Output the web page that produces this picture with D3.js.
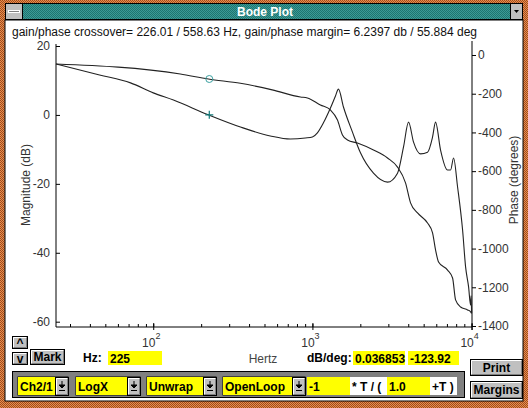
<!DOCTYPE html>
<html>
<head>
<meta charset="utf-8">
<script src="https://cdn.jsdelivr.net/npm/d3@7"></script>
<style>
body { margin: 0; background: #fff; }
svg { display: block; font-family: Arial, "Liberation Sans", sans-serif; }
</style>
</head>
<body>
<svg id="win" width="528" height="408"></svg>
<script>

// magnitude curve (Hz, dB)
var magFreq = [24.5, 46, 72, 100, 134, 222, 353, 544, 727, 904, 1000, 1075, 1173, 1298, 1396, 1458,
	1567, 1785, 2004, 2419, 2964, 3425, 3736, 4017, 4319, 4779, 5288, 5686, 5937, 6384, 7066, 7379,
	7707, 8166, 8780, 9169, 9576, 9858, 9930, 10000];
var magDb = [14.8, 11.6, 9.3, 6.4, 4.3, 0.04, -3.5, -6.1, -7.0, -6.7, -6.4, -5.2, -2.3, 2.0, 5.5, 7.5,
	2.3, -5.0, -11.0, -16.9, -19.5, -16.9, -9.3, -2.1, -7.9, -11.3, -10.8, -6.4, -2.1, -10.2, -16.0, -16.0,
	-12.5, -20.9, -33.4, -44.1, -49.9, -55.2, -52.5, -57.5];

// phase curve (Hz, degrees)
var phaseFreq = [24.5, 148, 222, 353, 559, 841, 930, 1123, 1298, 1437, 1544, 1661, 1919, 2419, 2964,
	3425, 3846, 4135, 4576, 5288, 5686, 5937, 6201, 7066, 7596, 7932, 8529, 9438, 9858, 10000];
var phaseDeg = [-46.5, -98, -124, -146, -180, -217, -222, -258, -284, -336, -413, -439, -455, -491, -532,
	-579, -661, -764, -816, -868, -919, -1007, -1069, -1111, -1152, -1265, -1302, -1317, -1327, -1335];

var magTicks = [20, 0, -20, -40, -60];
var phaseTicks = [0, -200, -400, -600, -800, -1000, -1200, -1400];
var decades = [100, 1000, 10000];

var markHz = 225, markDb = 0.036853, markDeg = -123.92;
var headline = "gain/phase crossover= 226.01 / 558.63 Hz,  gain/phase margin= 6.2397 db / 55.884 deg";
var combos = ["Ch2/1", "LogX", "Unwrap", "OpenLoop"];

var svg = d3.select("#win");

// --- window frame ---
var defs = svg.append("defs");
var pat = defs.append("pattern").attr("id", "dither").attr("width", 2).attr("height", 2)
	.attr("patternUnits", "userSpaceOnUse");
pat.append("rect").attr("width", 2).attr("height", 2).attr("fill", "#3c9a96");
pat.append("rect").attr("width", 1).attr("height", 1).attr("fill", "#1e7470");
pat.append("rect").attr("x", 1).attr("y", 1).attr("width", 1).attr("height", 1).attr("fill", "#1e7470");

var opat = defs.append("pattern").attr("id", "odither").attr("width", 2).attr("height", 2)
	.attr("patternUnits", "userSpaceOnUse");
opat.append("rect").attr("width", 2).attr("height", 2).attr("fill", "#e8904c");
opat.append("rect").attr("width", 1).attr("height", 1).attr("fill", "#a04a20");
opat.append("rect").attr("x", 1).attr("y", 1).attr("width", 1).attr("height", 1).attr("fill", "#a04a20");

svg.append("rect").attr("x", 0).attr("y", 0).attr("width", 528).attr("height", 408).attr("fill", "url(#odither)");
svg.append("rect").attr("x", 5).attr("y", 20).attr("width", 518).attr("height", 381).attr("fill", "#fff")
	.attr("stroke", "#000").attr("stroke-width", 1);
svg.append("rect").attr("x", 5.5).attr("y", 3.5).attr("width", 517).attr("height", 16).attr("fill", "url(#dither)")
	.attr("stroke", "#000");
// system menu box
svg.append("rect").attr("x", 5.5).attr("y", 3.5).attr("width", 17).attr("height", 16).attr("fill", "#c0c0c0").attr("stroke", "#000");
svg.append("rect").attr("x", 8.5).attr("y", 10.5).attr("width", 11).attr("height", 2).attr("fill", "#808080").attr("stroke", "#fff");
// dropdown box
svg.append("rect").attr("x", 510.5).attr("y", 3.5).attr("width", 12).attr("height", 16).attr("fill", "#c0c0c0").attr("stroke", "#000");
svg.append("path").attr("d", "M514,10 L519,10 L516.5,13 Z").attr("fill", "#000");
svg.append("text").attr("x", 265).attr("y", 16).attr("text-anchor", "middle").attr("fill", "#fff")
	.attr("font-weight", "bold").attr("font-size", 12).text("Bode Plot");

svg.append("text").attr("x", 12).attr("y", 36).attr("font-size", 12).attr("fill", "#111").text(headline);

// --- plot ---
var x = d3.scaleLog().domain([24.5, 10060]).range([56, 472]);
var yMag = d3.scaleLinear().domain([-60, 20]).range([321.7, 46]);
var yPhase = d3.scaleLinear().domain([-1400, 0]).range([326, 55]);
var plotBottom = 327;
var plain = function(d) { return String(d); };

var magData = magFreq.map(function(f, i) { return {f: f, v: magDb[i]}; });
var phaseData = phaseFreq.map(function(f, i) { return {f: f, v: phaseDeg[i]}; });

var g = svg.append("g");

// axis lines
g.append("line").attr("x1", 56).attr("x2", 56).attr("y1", 44).attr("y2", plotBottom).attr("stroke", "#000");
g.append("line").attr("x1", 472).attr("x2", 472).attr("y1", 41).attr("y2", plotBottom + 3).attr("stroke", "#000");
g.append("line").attr("x1", 56).attr("x2", 472).attr("y1", plotBottom).attr("y2", plotBottom).attr("stroke", "#000");

var leftAxis = d3.axisLeft(yMag).tickValues(magTicks).tickFormat(plain).tickSizeInner(-4).tickSizeOuter(0).tickPadding(6);
var gl = g.append("g").attr("transform", "translate(56,0)").call(leftAxis);

var rightAxis = d3.axisRight(yPhase).tickValues(phaseTicks).tickFormat(plain).tickSizeInner(4).tickSizeOuter(0).tickPadding(2);
var gr = g.append("g").attr("transform", "translate(472,0)").call(rightAxis);

var minorAxis = d3.axisBottom(x).tickValues(x.ticks()).tickSizeInner(-3).tickSizeOuter(0).tickFormat("");
var gb = g.append("g").attr("transform", "translate(0," + plotBottom + ")").call(minorAxis);
var majorAxis = d3.axisBottom(x).tickValues(decades).tickSizeInner(3).tickSizeOuter(0).tickFormat("");
var gb2 = g.append("g").attr("transform", "translate(0," + plotBottom + ")").call(majorAxis);
gb2.selectAll(".tick line").attr("y1", -4);

[gl, gr, gb, gb2].forEach(function(a) {
	a.select(".domain").remove();
	a.selectAll("line").attr("stroke", "#000");
	a.selectAll("text").attr("font-family", "Arial, 'Liberation Sans', sans-serif").attr("font-size", 12).attr("fill", "#333");
});

// decade labels 10^n
decades.forEach(function(d) {
	var t = g.append("text").attr("x", x(d) - 2).attr("y", 347).attr("text-anchor", "middle")
		.attr("font-size", 12).attr("fill", "#333");
	t.append("tspan").text("10");
	t.append("tspan").attr("dy", -8).attr("font-size", 9).text(Math.round(Math.log10(d)));
});

g.append("text").attr("transform", "translate(30,185) rotate(-90)").attr("text-anchor", "middle")
	.attr("font-size", 12).attr("fill", "#333").text("Magnitude (dB)");
g.append("text").attr("transform", "translate(518,180) rotate(-90)").attr("text-anchor", "middle")
	.attr("font-size", 12).attr("fill", "#333").text("Phase (degrees)");

var magLine = d3.line().x(function(d) { return x(d.f); }).y(function(d) { return yMag(d.v); }).curve(d3.curveMonotoneX);
var phaseLine = d3.line().x(function(d) { return x(d.f); }).y(function(d) { return yPhase(d.v); }).curve(d3.curveMonotoneX);

g.append("path").datum(phaseData).attr("d", phaseLine).attr("fill", "none").attr("stroke", "#222").attr("stroke-width", 1.1);
g.append("path").datum(magData).attr("d", magLine).attr("fill", "none").attr("stroke", "#222").attr("stroke-width", 1.1);

// marker
var mx = x(markHz);
g.append("circle").attr("cx", mx).attr("cy", yPhase(markDeg)).attr("r", 3.5).attr("fill", "none").attr("stroke", "#3aa0a0").attr("stroke-width", 1);
g.append("path").attr("d", "M" + (mx - 4) + "," + yMag(markDb) + "h8M" + mx + "," + (yMag(markDb) - 4) + "v8")
	.attr("stroke", "#137a7a").attr("stroke-width", 1.2);

// --- controls ---
function button(xp, yp, w, h, label) {
	svg.append("rect").attr("x", xp + 0.5).attr("y", yp + 0.5).attr("width", w).attr("height", h).attr("fill", "#c0c0c0").attr("stroke", "#000");
	svg.append("path").attr("d", "M" + (xp + 1.5) + "," + (yp + h - 0.5) + "V" + (yp + 1.5) + "H" + (xp + w - 0.5))
		.attr("fill", "none").attr("stroke", "#fff");
	svg.append("path").attr("d", "M" + (xp + 1.5) + "," + (yp + h - 0.5) + "H" + (xp + w - 0.5) + "V" + (yp + 1.5))
		.attr("fill", "none").attr("stroke", "#808080");
	if (label) {
		svg.append("text").attr("x", xp + w / 2 + 0.5).attr("y", yp + h / 2 + 4.5).attr("text-anchor", "middle")
			.attr("font-size", 12).attr("font-weight", "bold").attr("fill", "#000").text(label);
	}
}
function field(xp, yp, w, h, label, fill) {
	svg.append("rect").attr("x", xp).attr("y", yp).attr("width", w).attr("height", h).attr("fill", fill || "#ffff00");
	svg.append("text").attr("x", xp + 2).attr("y", yp + h / 2 + 4.5).attr("font-size", 12).attr("font-weight", "bold")
		.attr("fill", "#000").text(label);
}

button(12, 336, 15, 12, "^");
button(12, 352, 15, 12, "v");
button(30, 349, 34, 15, "Mark");
svg.append("text").attr("x", 83).attr("y", 362).attr("font-size", 12).attr("font-weight", "bold").text("Hz:");
field(108, 351, 54, 14, String(markHz));
svg.append("text").attr("x", 263).attr("y", 363).attr("text-anchor", "middle").attr("font-size", 12).attr("fill", "#444").text("Hertz");
svg.append("text").attr("x", 307).attr("y", 362).attr("font-size", 12).attr("font-weight", "bold").text("dB/deg:");
field(353, 351, 52, 14, String(markDb));
field(408, 351, 51, 14, String(markDeg));
button(470, 359, 52, 16, "Print");
button(470, 381, 52, 17, "Margins");

svg.append("rect").attr("x", 12.5).attr("y", 371.5).attr("width", 452).attr("height", 26).attr("fill", "#808080").attr("stroke", "#000");

var comboX = [18, 76, 147, 223], comboW = [37, 51, 56, 69];
combos.forEach(function(c, i) {
	svg.append("rect").attr("x", comboX[i] - 0.5).attr("y", 376.5).attr("width", comboW[i] + 14).attr("height", 19).attr("fill", "#000");
	field(comboX[i], 377, comboW[i], 18, c);
	button(comboX[i] + comboW[i], 377, 13, 18, null);
	var ax = comboX[i] + comboW[i] + 7;
	svg.append("path").attr("d", "M" + (ax - 3) + ",385h6l-3,3z M" + ax + ",381v4 M" + (ax - 3) + ",390.5h6").attr("stroke", "#000").attr("fill", "#000").attr("stroke-width", 1);
});
field(307, 377, 43, 18, "-1");
field(350, 377, 37, 18, "* T / (", "#fff");
field(387, 377, 43, 18, "1.0");
field(430, 377, 27, 18, "+T )", "#fff");

</script>
</body>
</html>
